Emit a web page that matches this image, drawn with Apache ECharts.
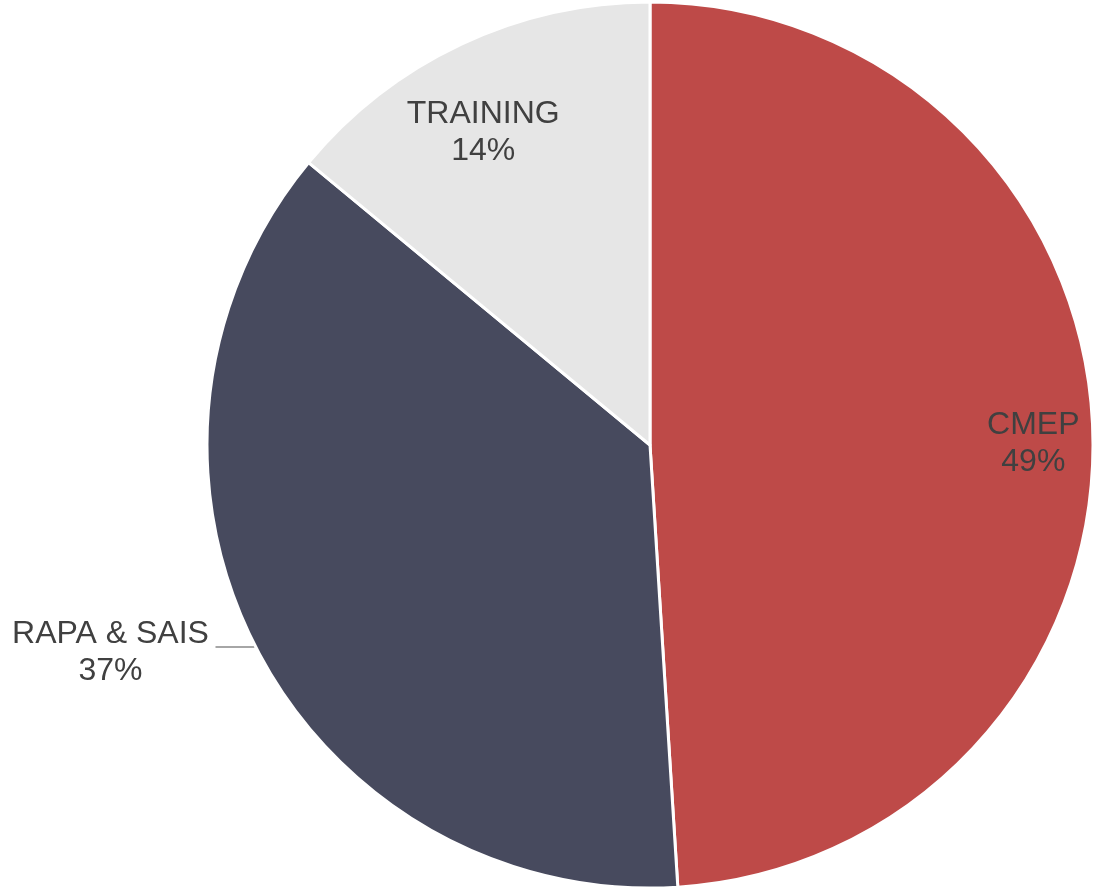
<!DOCTYPE html>
<html>
<head>
<meta charset="utf-8">
<script src="https://cdn.jsdelivr.net/npm/echarts@6/dist/echarts.min.js"></script>
<style>
    html, body { margin: 0; padding: 0; background: #fff; }
    #main { width: 1096px; height: 893px; }
</style>
</head>
<body>
<div id="main"></div>
<script>
// 数据
var categories = ['CMEP', 'RAPA & SAIS', 'TRAINING'];
var values = [49, 37, 14];
var colors = ['#BE4A48', '#474A5E', '#E6E6E6'];
// 哪个标签放在外面
var outsideLabel = [false, true, false];
// 标签的微调 (像素)
var labelShift = [[13, 10], [0, 6], [-9, 23]];

var chart = echarts.init(document.getElementById('main'));

var pieData = [];
var labelData = [];
for (var i = 0; i < categories.length; i++) {
    pieData.push({
        name: categories[i],
        value: values[i],
        itemStyle: { color: colors[i] },
        label: { show: outsideLabel[i] },
        labelLine: { show: outsideLabel[i] }
    });
    labelData.push({
        name: categories[i],
        value: values[i],
        label: { show: !outsideLabel[i] }
    });
}

var textStyle = {
    color: '#404040',
    fontFamily: 'Liberation Sans, Arial, sans-serif',
    fontSize: 32,
    lineHeight: 37
};

function shiftLabel(params) {
    var s = labelShift[params.dataIndex];
    return { dx: s[0], dy: s[1] };
}

var option = {
    animation: false,
    series: [{
        // 主饼图
        type: 'pie',
        center: [650, 445],
        radius: [0, 443],
        startAngle: 90,
        avoidLabelOverlap: false,
        itemStyle: {
            borderColor: '#fff',
            borderWidth: 3
        },
        label: {
            position: 'outside',
            formatter: '{a|{b}}\n{a|{d}%}',
            rich: {
                a: Object.assign({ width: 200, align: 'center' }, textStyle)
            }
        },
        labelLine: {
            length: 2,
            length2: 38,
            smooth: false,
            lineStyle: { color: '#A6A6A6', width: 2 }
        },
        labelLayout: shiftLabel,
        data: pieData
    }, {
        // 只用来放里面的标签
        type: 'pie',
        silent: true,
        center: [650, 445],
        radius: [292, 443],
        startAngle: 90,
        avoidLabelOverlap: false,
        itemStyle: { color: 'transparent' },
        label: Object.assign({
            position: 'inside',
            formatter: '{b}\n{d}%'
        }, textStyle),
        labelLine: { show: false },
        labelLayout: shiftLabel,
        data: labelData
    }]
};

chart.setOption(option);
</script>
</body>
</html>
